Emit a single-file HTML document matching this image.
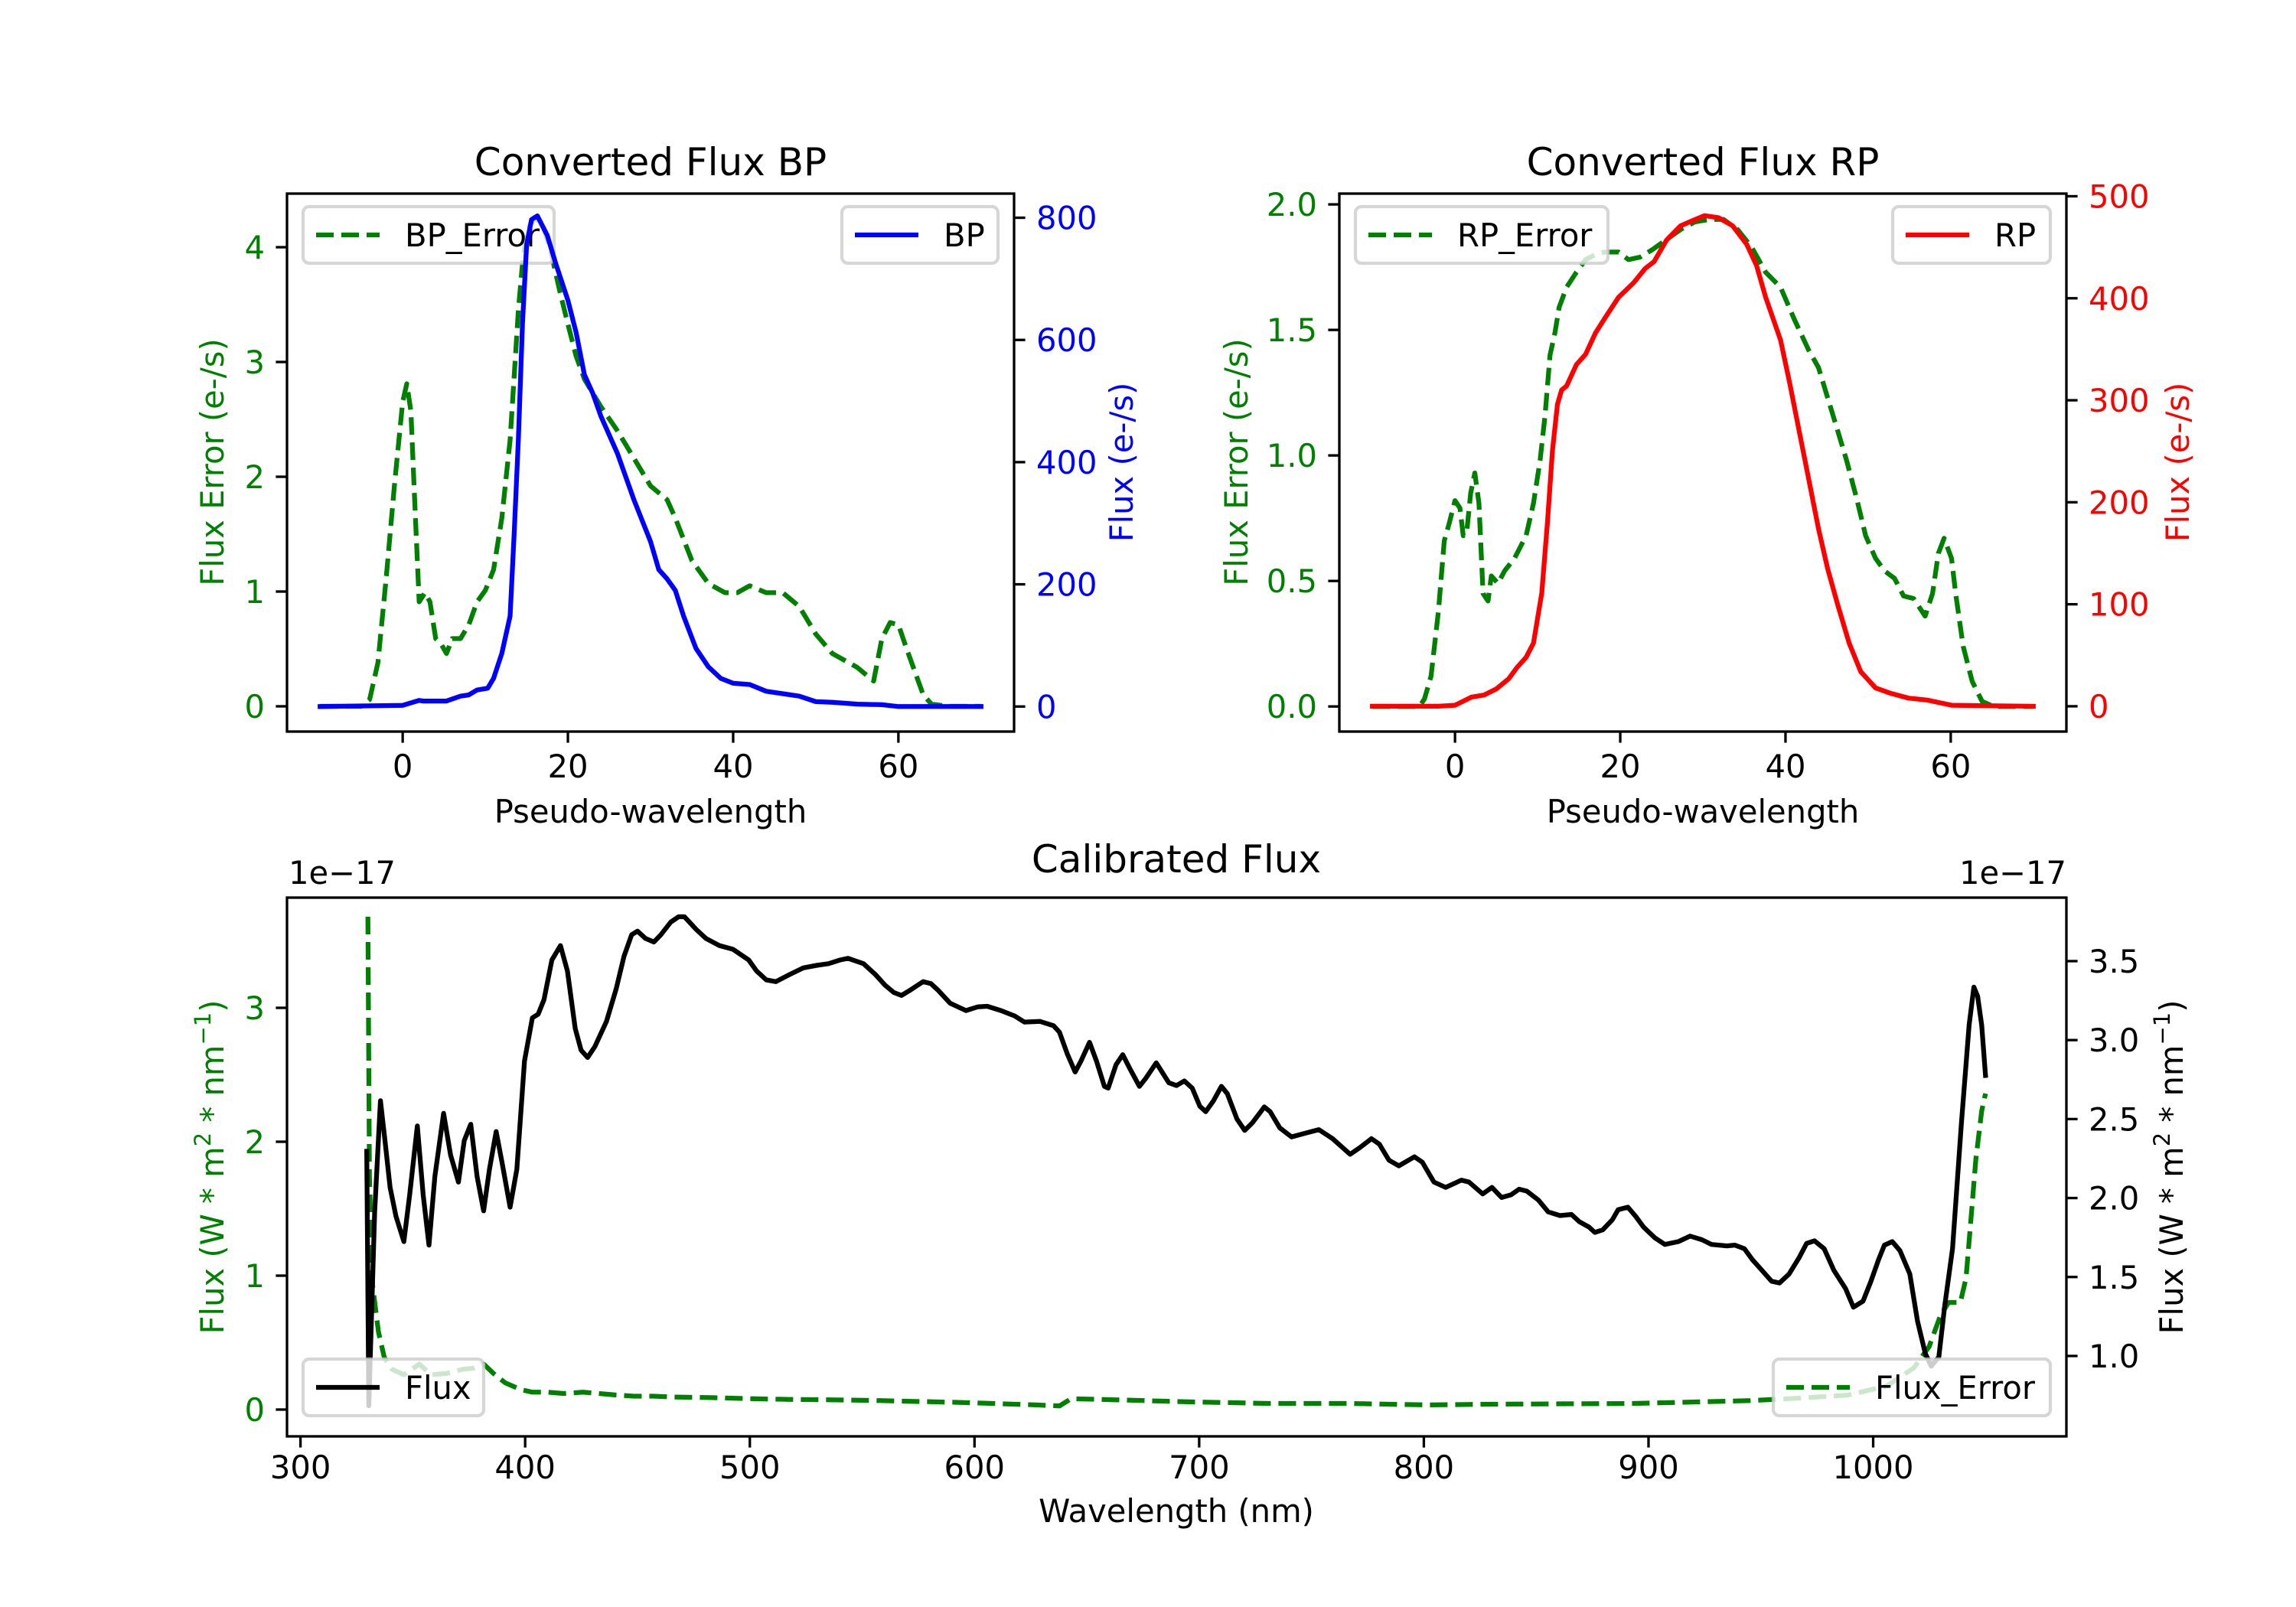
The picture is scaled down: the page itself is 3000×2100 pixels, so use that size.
<!DOCTYPE html>
<html><head><meta charset="utf-8"><title>Converted and Calibrated Flux</title>
<style>
html,body{margin:0;padding:0;background:#fff;}
svg{display:block;font-family:"DejaVu Sans","Liberation Sans",sans-serif;}
</style></head>
<body>
<svg id="fig" width="3000" height="2100" viewBox="0 0 3000 2100" xmlns="http://www.w3.org/2000/svg">
<rect x="0" y="0" width="3000" height="2100" fill="#fff"/>
</svg>
<script>
// ---------- data ----------
const bpX = [-10,0,2,2.5,5.3,7,8,9,10.3,11,12,13,13.5,14,14.5,15,15.6,16.3,17.5,18.5,20,21,22,23,24,26,28,30,31,32,33,34,35.5,37,38.5,40,42,44,46,48,50,52,55,58,60,70];
const bpFlux = [0,2,10,9,9,17,19,27,30,46,87,148,285,437,627,756,797,803,771,726,665,612,543,513,475,414,338,270,224,209,190,148,95,65,46,38,36,25,21,17,8,7,4,3,0,0];
const bpErrX = [-10,-5,-4,-3,-2,-1,0,0.5,1,1.5,2,2.7,3.3,4,4.6,5.3,6,7,8,9,10,11,12,13,14,14.5,15,16,17,18,19,20,21,22,23,24,26,28,30,32,33,35,37,39,40.5,42,44,46,48,50,52,55,57,58,59,60,61,62,63,64,66,70];
const bpErr = [0,0,0.06,0.38,1.11,1.92,2.65,2.81,2.57,1.72,0.91,0.99,0.91,0.59,0.55,0.46,0.59,0.59,0.71,0.91,1.01,1.19,1.64,2.32,3.45,3.86,4.14,4.26,4.18,3.94,3.62,3.33,3.05,2.85,2.73,2.61,2.40,2.16,1.92,1.80,1.64,1.27,1.07,0.99,0.99,1.05,0.99,0.99,0.87,0.63,0.46,0.34,0.22,0.59,0.73,0.71,0.5,0.3,0.1,0.02,0,0];
const rpX = [-10,-2,0,1,2,3.5,5,6.5,7.5,8.6,9.5,10.5,11.2,11.8,12.4,12.9,13.5,14.7,15.8,17,18.1,19.8,21.6,23,24.1,25.6,27.3,28.7,30.2,31.9,33.6,35.3,36.5,37.6,39.4,40.5,41.7,42.8,44,45.1,46.3,47.7,49.1,50.9,52.6,54.9,57.2,60.1,70];
const rpFlux = [0,0,1,5,9,11,17,27,38,48,62,111,181,251,296,310,314,335,345,366,380,401,415,429,436,457,471,476,481,479,471,453,432,401,359,317,268,223,174,135,100,62,34,18,13,8,6,1,0];
const rpErrX = [-10,-4.3,-3.7,-2.9,-2,-1.3,-0.7,0,0.6,1,1.4,1.9,2.4,2.9,3.4,4,4.4,5.2,6,7.2,8.6,9.5,10.3,10.9,11.5,12.1,12.6,13.5,14.7,15.8,17,18.1,19.8,21,22.4,23.9,25.6,27.3,29,30.7,32.5,34.2,35.9,37.6,39.4,41.1,42.8,44,45.1,46.3,47.4,48.6,49.7,50.9,52,53.2,54.3,55.5,56.9,57.8,58.5,59.2,60.1,60.6,61.5,62.6,63.8,65.2,70];
const rpErr = [0,0,0.03,0.12,0.38,0.66,0.73,0.82,0.79,0.68,0.69,0.85,0.93,0.81,0.45,0.42,0.52,0.49,0.54,0.59,0.68,0.81,0.98,1.16,1.40,1.49,1.59,1.67,1.73,1.78,1.80,1.81,1.81,1.78,1.79,1.82,1.86,1.90,1.93,1.94,1.94,1.90,1.83,1.73,1.67,1.54,1.42,1.35,1.23,1.10,0.98,0.83,0.68,0.59,0.54,0.51,0.44,0.43,0.36,0.45,0.61,0.67,0.59,0.45,0.24,0.10,0.02,0,0];
const calX = [329.5,330.4,333,335.6,337.6,339.9,342.5,346,348.6,352,354.6,357.2,359.8,363.7,366.8,370.3,372.9,375.8,378.6,381.5,384.1,387.1,389.7,393.3,396.3,399.7,403.2,405.8,408.4,411.9,415.7,418.8,422.3,424.9,427.8,431,436.2,440.5,444,447.4,450,453.5,457.3,460.4,464.8,468.3,470.9,476.1,480.4,486.5,492.5,499.5,503,507.3,511.6,517.7,523.8,529.8,535,540.2,543.7,550.6,555.9,560.2,564.1,567.5,571,577.1,580.6,584,589.2,596.2,601.4,605.7,611.8,617.9,622.2,629.2,635.2,637.8,641.3,644.8,647.4,651.2,654.3,657.8,659.5,663,666,669.1,673.4,676,680.9,686.5,689.9,693.4,696.9,700.3,702.9,706.4,709.9,712.5,716.8,720.3,723.8,729,731.6,735.9,741.1,747.2,753.3,759.4,767.2,771.5,776.7,780.2,784.5,788.9,795.8,799.3,804.5,809.7,816.7,820.1,826.2,830.3,834.6,838.9,842.4,845.8,851,855.4,860.6,865.7,869.2,873.5,876.1,879.6,883.9,886.5,890.8,894.3,897.8,902.9,907.3,913.3,918.5,923.7,928,934.9,938.4,942.7,946.2,950.5,954.8,958.3,962.6,967,970.4,973.9,978.2,982.5,987.7,991.2,995.5,999,1002.4,1005,1008.5,1011.9,1016.3,1019.7,1023.2,1025.8,1029.2,1031.8,1035.3,1039.3,1042.7,1044.8,1046.5,1048.3,1050];
const calFlux = [2.296,0.685,1.907,2.616,2.364,2.067,1.884,1.724,2.021,2.456,2.021,1.702,2.136,2.536,2.273,2.101,2.364,2.467,2.136,1.919,2.181,2.421,2.227,1.942,2.181,2.867,3.141,3.164,3.256,3.507,3.598,3.438,3.073,2.936,2.890,2.958,3.118,3.324,3.530,3.667,3.690,3.644,3.621,3.667,3.747,3.781,3.781,3.701,3.644,3.598,3.575,3.507,3.438,3.381,3.370,3.415,3.457,3.473,3.484,3.507,3.518,3.484,3.415,3.347,3.301,3.283,3.313,3.370,3.358,3.313,3.233,3.187,3.210,3.214,3.187,3.153,3.114,3.118,3.091,3.050,2.913,2.798,2.867,2.986,2.867,2.707,2.696,2.844,2.908,2.821,2.707,2.753,2.856,2.730,2.712,2.741,2.696,2.581,2.547,2.616,2.707,2.661,2.501,2.428,2.478,2.577,2.547,2.444,2.387,2.410,2.433,2.376,2.277,2.319,2.376,2.341,2.239,2.204,2.261,2.227,2.101,2.067,2.113,2.101,2.026,2.067,2.003,2.021,2.056,2.044,1.987,1.912,1.889,1.896,1.850,1.816,1.782,1.798,1.862,1.926,1.942,1.884,1.816,1.747,1.706,1.724,1.759,1.736,1.706,1.697,1.702,1.679,1.610,1.542,1.473,1.462,1.519,1.622,1.713,1.729,1.679,1.542,1.427,1.309,1.347,1.473,1.610,1.702,1.724,1.667,1.519,1.222,1.016,0.936,0.993,1.313,1.679,2.479,3.096,3.335,3.278,3.096,2.776,2.193];
const calErrX = [330,330.7,332.1,334.7,337.3,340.8,346,352.9,358.1,365,372,377.2,381.5,385.9,391.1,398,403.2,410.1,417.1,425.8,432.7,439.6,448.3,457,465.7,483,500.3,517.7,535,558,592.7,627.4,637.8,643,662,696.9,731.6,766.3,801,830.2,893.4,945.3,962.6,988.6,1005.9,1018,1024.9,1030.1,1033.6,1038.8,1041.3,1043.1,1045.7,1048.3,1050];
const calErr = [3.68,1.74,0.93,0.58,0.39,0.30,0.26,0.34,0.26,0.27,0.30,0.31,0.34,0.27,0.20,0.15,0.13,0.13,0.12,0.13,0.12,0.11,0.10,0.10,0.094,0.089,0.081,0.076,0.073,0.067,0.054,0.035,0.027,0.081,0.073,0.057,0.046,0.046,0.035,0.040,0.046,0.067,0.081,0.108,0.175,0.31,0.47,0.71,0.80,0.80,0.98,1.34,1.87,2.23,2.36];
const topXTicks = [0,20,40,60];
const bpLeftTicks = [0,1,2,3,4];
const bpRightTicks = [0,200,400,600,800];
const rpLeftTicks = [0,0.5,1.0,1.5,2.0];
const rpLeftTickLabels = ['0.0','0.5','1.0','1.5','2.0'];
const rpRightTicks = [0,100,200,300,400,500];
const calXTicks = [300,400,500,600,700,800,900,1000];
const calLeftTicks = [0,1,2,3];
const calRightTicks = [1.0,1.5,2.0,2.5,3.0,3.5];
const calRightTickLabels = ['1.0','1.5','2.0','2.5','3.0','3.5'];

// ---------- helpers ----------
const NS = 'http://www.w3.org/2000/svg';
const svg = document.getElementById('fig');
function mk(tag, attrs, parent){
  const e = document.createElementNS(NS, tag);
  for (const k in attrs) e.setAttribute(k, attrs[k]);
  (parent || svg).appendChild(e);
  return e;
}
function lin(p0,p1,d0,d1){ return v => p0 + (v-d0)/(d1-d0)*(p1-p0); }
const FS = 41.67, TL = 14.6, TW = 3.3;

function drawLine(xs, ys, X, Y, color, dashed, name){
  let d = '';
  for (let i=0;i<xs.length;i++) d += (i?'L':'M') + X(xs[i]).toFixed(1) + ' ' + Y(ys[i]).toFixed(1);
  const p = mk('path', {d:d, fill:'none', stroke:color, 'stroke-width':6.25, 'stroke-linejoin':'round', 'stroke-linecap': dashed?'butt':'square', 'stroke-dasharray': dashed?'23 10':'none'});
  
  
  return p;
}
function spines(x0,y0,x1,y1,name){
  const r = mk('rect',{x:x0,y:y0,width:x1-x0,height:y1-y0,fill:'none',stroke:'#000','stroke-width':TW});
  
  
}
function xTicks(vals, labels, X, yb, baseY, prefix){
  vals.forEach((v,i)=>{
    const t = mk('line',{x1:X(v),x2:X(v),y1:yb,y2:yb+TL,stroke:'#000','stroke-width':TW});
    
    
    const l = mk('text',{x:X(v),y:baseY,'text-anchor':'middle','font-size':FS,fill:'#000'});
    l.textContent = labels[i];
    
    
  });
}
function yTicks(vals, labels, Y, xs, side, color, prefix){
  vals.forEach((v,i)=>{
    const dx = side==='left' ? -TL : TL;
    const t = mk('line',{x1:xs,x2:xs+dx,y1:Y(v),y2:Y(v),stroke:'#000','stroke-width':TW});
    
    
    const lx = side==='left' ? xs-29 : xs+29;
    const l = mk('text',{x:lx,y:Y(v)+15,'text-anchor': side==='left'?'end':'start','font-size':FS,fill:color});
    l.textContent = labels[i];
    
    
  });
}
function text(x,y,str,size,color,anchor,name,rot){
  const a = {x:x,y:y,'font-size':size,fill:color,'text-anchor':anchor||'middle'};
  if (rot) a.transform = 'rotate(-90 '+x+' '+y+')';
  const t = mk('text',a);
  t.textContent = str;
  
  
  return t;
}
function legend(x,y,w,label,color,dashed,name){
  const g = mk('g',{});
  
  
  const r = mk('rect',{x:x,y:y,width:w,height:74,rx:8,fill:'#fff','fill-opacity':0.8,stroke:'#cccccc','stroke-opacity':0.8,'stroke-width':4.2},g);
  
  
  const h = mk('line',{x1:x+17,x2:x+100,y1:y+37,y2:y+37,stroke:color,'stroke-width':6.25,'stroke-dasharray':dashed?'23 10':'none'},g);
  
  
  const t = mk('text',{x:x+133,y:y+52,'font-size':FS,fill:'#000'},g);
  t.textContent = label;
  
  
}

// ---------- BP panel ----------
(function(){
  const X = lin(375,1325,-14,74), YL = lin(956,253,-0.22,4.467), YR = lin(956,253,-41,839.5);
  drawLine(bpErrX, bpErr, X, YL, '#008000', true, 'bp-error-line');
  legend(396,270,328,'BP_Error','#008000',true,'bp-error-legend');
  drawLine(bpX, bpFlux, X, YR, '#0000ff', false, 'bp-flux-line');
  legend(1100,270,204,'BP','#0000ff',false,'bp-legend');
  spines(375,253,1325,956,'bp-axes-frame');
  xTicks(topXTicks, topXTicks.map(String), X, 956, 1016, 'bp');
  yTicks(bpLeftTicks, bpLeftTicks.map(String), YL, 375, 'left', '#008000', 'bp-left');
  yTicks(bpRightTicks, bpRightTicks.map(String), YR, 1325, 'right', '#0000ff', 'bp-right');
  text(850,229,'Converted Flux BP',50,'#000','middle','bp-title');
  text(850,1075,'Pseudo-wavelength',FS,'#000','middle','bp-x-axis-title');
  text(292,604,'Flux Error (e-/s)',FS,'#008000','middle','bp-left-y-axis-title',true);
  text(1480,604,'Flux (e-/s)',FS,'#0000ff','middle','bp-right-y-axis-title',true);
})();

// ---------- RP panel ----------
(function(){
  const X = lin(1750,2700,-14,74), YL = lin(956,253,-0.1,2.043), YR = lin(956,253,-24.8,502.6);
  drawLine(rpErrX, rpErr, X, YL, '#008000', true, 'rp-error-line');
  legend(1771,270,330,'RP_Error','#008000',true,'rp-error-legend');
  drawLine(rpX, rpFlux, X, YR, '#ff0000', false, 'rp-flux-line');
  legend(2473,270,206,'RP','#ff0000',false,'rp-legend');
  spines(1750,253,2700,956,'rp-axes-frame');
  xTicks(topXTicks, topXTicks.map(String), X, 956, 1016, 'rp');
  yTicks(rpLeftTicks, rpLeftTickLabels, YL, 1750, 'left', '#008000', 'rp-left');
  yTicks(rpRightTicks, rpRightTicks.map(String), YR, 2700, 'right', '#ff0000', 'rp-right');
  text(2225,229,'Converted Flux RP',50,'#000','middle','rp-title');
  text(2225,1075,'Pseudo-wavelength',FS,'#000','middle','rp-x-axis-title');
  text(1630,604,'Flux Error (e-/s)',FS,'#008000','middle','rp-left-y-axis-title',true);
  text(2860,604,'Flux (e-/s)',FS,'#ff0000','middle','rp-right-y-axis-title',true);
})();

// ---------- Calibrated panel ----------
(function(){
  const X = lin(375,2700,294,1086), YL = lin(1877,1173,-0.2,3.823), YR = lin(1877,1173,0.491,3.902);
  drawLine(calErrX, calErr, X, YL, '#008000', true, 'cal-error-line');
  drawLine(calX, calFlux, X, YR, '#000000', false, 'cal-flux-line');
  legend(396,1776,236,'Flux','#000000',false,'cal-flux-legend');
  legend(2317,1776,362,'Flux_Error','#008000',true,'cal-error-legend');
  spines(375,1173,2700,1877,'cal-axes-frame');
  xTicks(calXTicks, calXTicks.map(String), X, 1877, 1932, 'cal');
  yTicks(calLeftTicks, calLeftTicks.map(String), YL, 375, 'left', '#008000', 'cal-left');
  yTicks(calRightTicks, calRightTickLabels, YR, 2700, 'right', '#000', 'cal-right');
  text(1537,1140,'Calibrated Flux',50,'#000','middle','cal-title');
  text(1537,1989,'Wavelength (nm)',FS,'#000','middle','cal-x-axis-title');
  text(377,1155,'1e\u221217',FS,'#000','start','cal-left-offset-text');
  text(2700,1155,'1e\u221217',FS,'#000','end','cal-right-offset-text');
  const labs = [[292,'#008000','cal-left-y-axis-title'],[2852,'#000','cal-right-y-axis-title']];
  labs.forEach(a=>{
    const t = mk('text',{x:a[0],y:1525,'font-size':FS,fill:a[1],'text-anchor':'middle',transform:'rotate(-90 '+a[0]+' 1525)'});
    
    
    t.innerHTML = 'Flux (W * m<tspan baseline-shift="super" font-size="29">2</tspan> * nm<tspan baseline-shift="super" font-size="29">\u22121</tspan>)';
  });
})();
</script>
</body></html>
